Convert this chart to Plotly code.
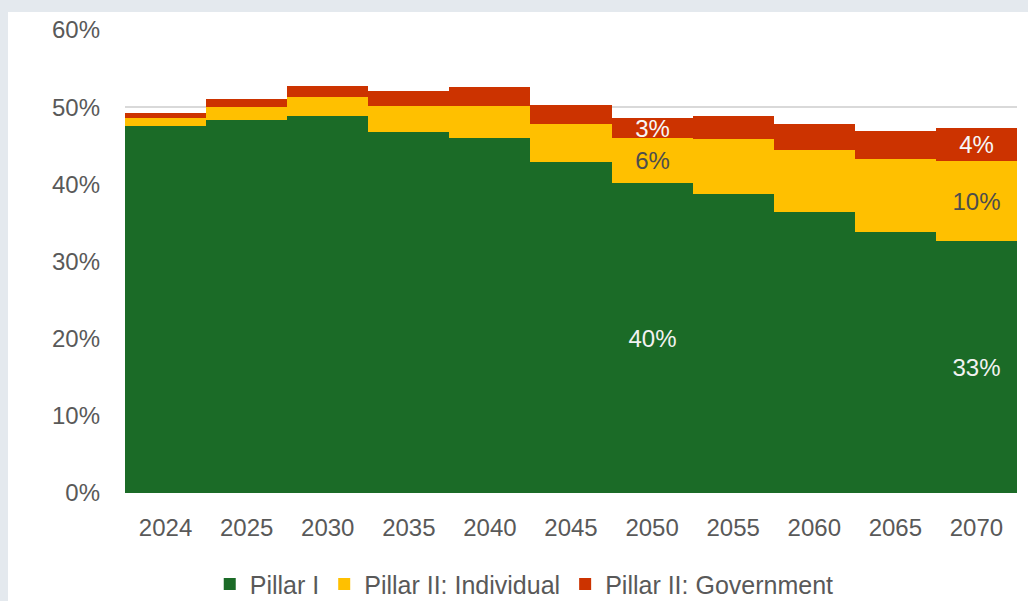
import plotly.graph_objects as go

# Pension spending shares by pillar (% values)
years = ["2024", "2025", "2030", "2035", "2040", "2045", "2050", "2055", "2060", "2065", "2070"]
pillar_1 = [47.6, 48.4, 48.8, 46.8, 46.0, 42.9, 40.2, 38.8, 36.4, 33.8, 32.6]
pillar_2_individual = [1.0, 1.6, 2.5, 3.4, 4.2, 4.9, 5.8, 7.1, 8.1, 9.5, 10.4]
pillar_2_government = [0.6, 1.0, 1.5, 1.9, 2.4, 2.5, 2.6, 2.9, 3.3, 3.6, 4.3]
labelled_years = ["2050", "2070"]

series = [
    ("Pillar I", pillar_1, "#1b6b27", "#f2f2f2"),
    ("Pillar II: Individual", pillar_2_individual, "#ffc000", "#4d4d4d"),
    ("Pillar II: Government", pillar_2_government, "#cc3300", "#f7f7f7"),
]

FONT = "Liberation Sans, Arial, sans-serif"
PLOT_W, PLOT_H = 892, 463

fig = go.Figure()
for name, values, color, text_color in series:
    labels = [f"{v:.0f}%" if yr in labelled_years else "" for yr, v in zip(years, values)]
    fig.add_trace(go.Bar(
        x=years, y=values, name=name,
        marker=dict(color=color, line=dict(width=0)),
        text=labels, textposition="inside", insidetextanchor="middle",
        textfont=dict(family=FONT, size=24, color=text_color),
        constraintext="none", cliponaxis=False,
        hoverinfo="skip",
    ))

# white card on a light grey page
fig.add_shape(type="rect", xref="paper", yref="paper",
              x0=(8 - 125) / PLOT_W, x1=1.05, y0=-120 / PLOT_H, y1=1 + 18 / PLOT_H,
              fillcolor="white", line=dict(width=0), layer="below")

fig.update_layout(
    width=1028, height=601,
    barmode="stack", bargap=0,
    paper_bgcolor="#e4e9ee", plot_bgcolor="white",
    margin=dict(l=125, r=11, t=30, b=108, autoexpand=False),
    uniformtext=dict(minsize=24, mode="show"),
    font=dict(family=FONT, color="#595959", size=24),
    showlegend=True,
    legend=dict(
        orientation="h", x=0.095, xanchor="left", y=-0.197, yanchor="middle",
        font=dict(family=FONT, size=25, color="#595959"),
        bgcolor="rgba(0,0,0,0)", itemwidth=30, traceorder="normal",
        tracegroupgap=0,
    ),
)
fig.update_yaxes(
    range=[0, 60], dtick=10, ticksuffix="%",
    showgrid=True, gridcolor="#d9d9d9", gridwidth=1.5,
    zeroline=False, showline=False,
    tickfont=dict(family=FONT, size=24, color="#595959"),
    ticklabelstandoff=24,
)
fig.update_xaxes(
    type="category", showgrid=False, showline=False,
    tickfont=dict(family=FONT, size=24, color="#595959"),
    ticklabelstandoff=18,
)

fig.write_html("out.html")
